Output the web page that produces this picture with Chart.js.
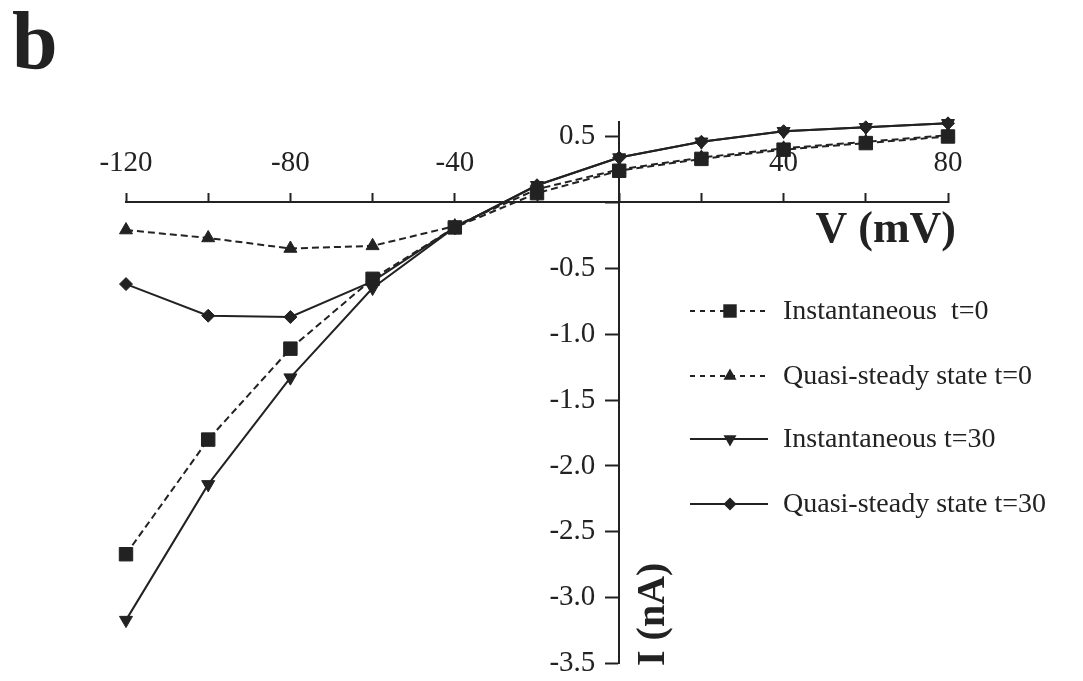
<!DOCTYPE html>
<html>
<head>
<meta charset="utf-8">
<script src="https://cdn.jsdelivr.net/npm/chart.js@4.4.1/dist/chart.umd.min.js"></script>
<style>
  html, body { margin: 0; padding: 0; background: #fff; }
  #wrap { position: relative; width: 1083px; height: 681px; }
  canvas { display: block; }
</style>
</head>
<body>
<div id="wrap"><canvas id="c" width="1083" height="681"></canvas></div>
<script>
// ---- data ----
const voltages = [-120, -100, -80, -60, -40, -20, 0, 20, 40, 60, 80];
const instantT0 = [-2.67, -1.80, -1.11, -0.58, -0.19, 0.07, 0.24, 0.33, 0.40, 0.45, 0.50];
const quasiT0 = [-0.21, -0.27, -0.35, -0.33, -0.18, 0.10, 0.25, 0.34, 0.41, 0.46, 0.51];
const instantT30 = [-3.17, -2.14, -1.33, -0.65, -0.19, 0.13, 0.34, 0.46, 0.54, 0.57, 0.60];
const quasiT30 = [-0.62, -0.86, -0.87, -0.60, -0.19, 0.13, 0.34, 0.46, 0.54, 0.57, 0.60];
const seriesNames = ['Instantaneous  t=0', 'Quasi-steady state t=0', 'Instantaneous t=30', 'Quasi-steady state t=30'];
const xLabelValues = [-120, -80, -40, 40, 80];
const yLabelValues = [0.5, -0.5, -1.0, -1.5, -2.0, -2.5, -3.0, -3.5];
const xTitle = 'V (mV)';
const yTitle = 'I (nA)';
const panelLabel = 'b';

const SERIF = '"Liberation Serif", "DejaVu Serif", serif';
const INK = '#222';

function pts(vals) { return voltages.map((v, i) => ({x: v, y: vals[i]})); }

const styles = [
  {dash: [7, 4], point: 'rect', radius: 9.5, rotation: 0},
  {dash: [7, 4], point: 'triangle', radius: 7.5, rotation: 0},
  {dash: [], point: 'triangle', radius: 7.5, rotation: 180},
  {dash: [], point: 'rectRot', radius: 6.5, rotation: 0}
];
const seriesData = [instantT0, quasiT0, instantT30, quasiT30];

const datasets = seriesData.map((vals, i) => ({
  label: seriesNames[i],
  data: pts(vals),
  borderColor: INK,
  backgroundColor: INK,
  borderWidth: 2,
  borderDash: styles[i].dash,
  pointStyle: styles[i].point,
  pointRadius: styles[i].radius,
  pointRotation: styles[i].rotation,
  pointBorderWidth: 1,
  pointBorderColor: INK,
  pointBackgroundColor: INK,
  tension: 0,
  fill: false,
  clip: false
}));

function drawMarker(ctx, style, x, y) {
  const r = style.radius;
  ctx.save();
  ctx.fillStyle = INK;
  ctx.beginPath();
  if (style.point === 'rect') {
    const h = r * Math.SQRT1_2;
    ctx.rect(x - h, y - h, 2 * h, 2 * h);
  } else if (style.point === 'rectRot') {
    ctx.moveTo(x, y - r); ctx.lineTo(x + r, y); ctx.lineTo(x, y + r); ctx.lineTo(x - r, y);
    ctx.closePath();
  } else if (style.point === 'triangle') {
    const s = style.rotation === 180 ? -1 : 1;
    ctx.moveTo(x, y - s * r);
    ctx.lineTo(x + r * 0.866, y + s * r * 0.5);
    ctx.lineTo(x - r * 0.866, y + s * r * 0.5);
    ctx.closePath();
  }
  ctx.fill();
  ctx.restore();
}

const decorPlugin = {
  id: 'decor',
  afterDraw(chart) {
    const ctx = chart.ctx;
    ctx.save();
    // panel label
    ctx.fillStyle = INK;
    ctx.textBaseline = 'alphabetic';
    ctx.textAlign = 'left';
    ctx.font = 'bold 82px ' + SERIF;
    ctx.fillText(panelLabel, 12, 68);
    // x axis title
    ctx.font = 'bold 44px ' + SERIF;
    ctx.textAlign = 'right';
    ctx.fillText(xTitle, 956, 242);
    // y axis title (rotated)
    ctx.save();
    ctx.translate(664, 666);
    ctx.rotate(-Math.PI / 2);
    ctx.textAlign = 'left';
    ctx.font = 'bold 40px ' + SERIF;
    ctx.fillText(yTitle, 0, 0);
    ctx.restore();
    // legend
    const rows = [311, 376, 439, 504];
    const x0 = 690, x1 = 768, xm = 730;
    ctx.font = '28px ' + SERIF;
    ctx.textAlign = 'left';
    ctx.textBaseline = 'middle';
    rows.forEach((ry, i) => {
      const st = styles[i];
      ctx.save();
      ctx.strokeStyle = INK;
      ctx.lineWidth = 2;
      ctx.setLineDash(st.dash.length ? [5, 5] : []);
      ctx.beginPath();
      ctx.moveTo(x0, ry); ctx.lineTo(x1, ry);
      ctx.stroke();
      ctx.restore();
      drawMarker(ctx, st, xm, ry);
      ctx.fillStyle = INK;
      ctx.fillText(seriesNames[i], 783, ry + 1);
    });
    ctx.restore();
  }
};

const yTickOpts = {
  stepSize: 0.5, includeBounds: false, autoSkip: false,
  color: INK, font: { family: SERIF, size: 29 },
  callback: (v) => {
    const m = yLabelValues.find(t => Math.abs(t - v) < 1e-6);
    return m === undefined ? '' : m.toFixed(1);
  }
};

new Chart(document.getElementById('c'), {
  type: 'line',
  data: { datasets },
  options: {
    responsive: false,
    animation: false,
    devicePixelRatio: 1,
    layout: { padding: { left: 126, right: 135, top: 122, bottom: 14 } },
    plugins: { legend: { display: false }, tooltip: { enabled: false } },
    scales: {
      x: {
        type: 'linear',
        min: -120, max: 80,
        position: { y: 0 },
        border: { display: true, color: INK, width: 2 },
        grid: { drawOnChartArea: false, drawTicks: true, tickLength: -10, color: INK, tickColor: INK, tickWidth: 2 },
        ticks: {
          stepSize: 20, autoSkip: false, maxRotation: 0, mirror: true, padding: -12,
          color: INK, font: { family: SERIF, size: 29 },
          callback: (v) => xLabelValues.includes(v) ? String(v) : ''
        }
      },
      y: {
        type: 'linear',
        min: -3.5, max: 0.61,
        position: { x: 0 },
        border: { display: true, color: INK, width: 2 },
        grid: { drawOnChartArea: false, drawTicks: true, tickLength: 13, color: INK, tickColor: INK, tickWidth: 2 },
        ticks: Object.assign({}, yTickOpts, { display: false })
      },
      yLabels: {
        type: 'linear',
        axis: 'y',
        min: -3.5, max: 0.61,
        position: { x: -5.8 },
        border: { display: false },
        grid: { display: false, drawTicks: false },
        ticks: Object.assign({}, yTickOpts, { padding: 0 })
      }
    }
  },
  plugins: [decorPlugin]
});
</script>
</body>
</html>
